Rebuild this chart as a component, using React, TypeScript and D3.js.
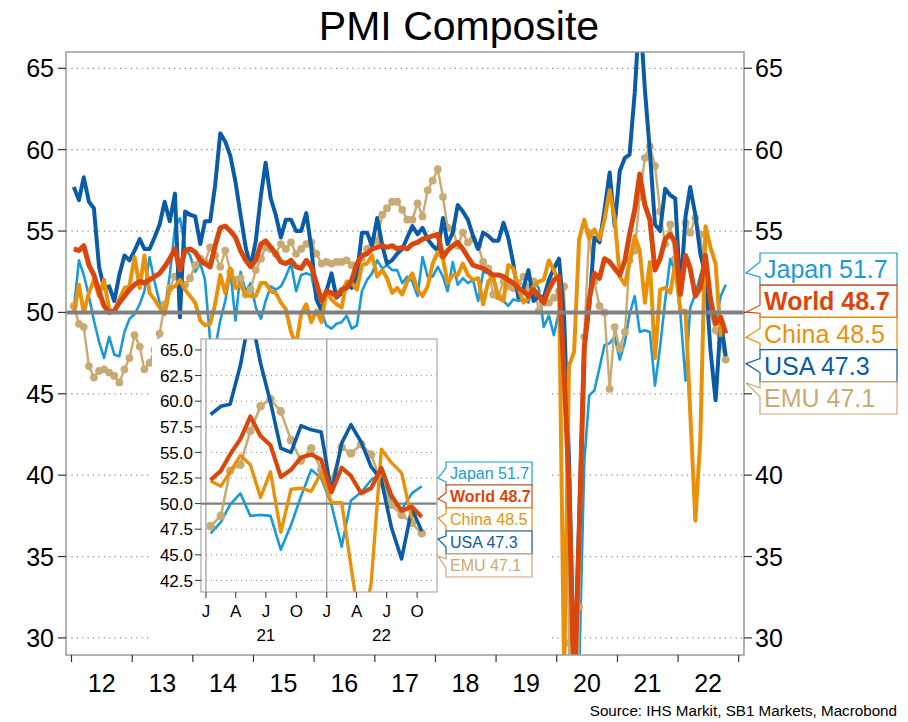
import React from 'react';
import * as d3 from 'd3';

// monthly values, Jan 2012 .. Oct 2022 (China to Sep 2022)
const japan = [
  50.2, 53.2, 52.3, 51.0, 49.5, 48.2, 47.2, 48.5, 47.4, 47.3, 48.8, 49.6,
  49.9, 50.5, 51.3, 53.4, 51.9, 50.6, 50.1, 52.3, 55.2, 55.8, 54.0, 53.5,
  52.5, 53.0, 52.0, 48.3, 47.8, 49.5, 50.7, 52.5, 49.5, 52.5, 51.3, 51.8,
  50.3, 49.6, 50.7, 51.6, 51.4, 51.6, 52.2, 53.0, 51.3, 52.3, 52.4, 52.3,
  50.8, 50.0, 49.2, 49.0, 49.3, 49.4, 49.8, 49.0, 49.2, 51.3, 52.0, 52.4,
  53.2, 52.7, 52.9, 52.6, 52.6, 51.8, 52.2, 51.9, 51.0, 53.4, 52.2, 52.2,
  52.8, 52.2, 51.3, 53.1, 51.7, 52.1, 51.8, 52.0, 50.7, 52.5, 52.4, 52.0,
  50.9, 50.7, 50.4, 50.8, 50.7, 50.8, 50.6, 51.9, 51.5, 49.1, 49.8, 48.6,
  50.1, 47.0, 36.2, 25.8, 27.8, 40.8, 44.9, 45.2, 46.6, 48.0, 48.1, 48.5,
  47.1, 48.2, 49.9, 51.0, 48.8, 48.9, 48.8, 45.5, 47.9, 50.7, 53.3, 52.5,
  49.9, 45.8, 50.3, 51.1, 52.3, 53.0, 50.2, 49.4, 51.0, 51.7,
];

const world = [
  53.9, 53.8, 54.1, 52.9, 52.3, 51.3, 50.4, 50.0, 50.1, 50.6, 51.0, 51.4,
  51.7, 51.9, 51.8, 52.0, 52.2, 52.4, 52.8, 53.3, 53.9, 52.6, 53.8, 53.9,
  53.7, 53.2, 53.0, 52.8, 54.1, 55.2, 55.3, 55.0, 54.6, 53.8, 53.2, 52.8,
  53.2, 54.2, 54.4, 54.0, 53.6, 53.1, 53.0, 53.2, 52.8, 52.7, 53.2, 52.8,
  51.8, 50.7, 51.3, 51.2, 51.0, 51.4, 51.5, 52.0, 53.0, 53.5, 53.6, 53.9,
  54.0, 54.1, 54.0, 54.1, 53.9, 54.0, 53.9, 54.2, 54.3, 54.5, 54.6, 54.7,
  54.8, 53.4, 53.8, 54.1, 54.3, 53.9, 53.4, 52.9, 52.8, 52.7, 52.5, 52.3,
  52.3, 52.2, 52.0, 51.8, 51.5, 51.3, 51.0, 51.4, 51.0, 50.6, 51.4, 52.0,
  52.2, 46.1, 39.4, 26.2, 36.3, 47.8, 50.8, 52.4, 52.1, 53.3, 53.1, 52.7,
  52.3, 53.2, 54.8, 56.3, 58.5, 56.6, 55.7, 52.6, 53.3, 54.5, 54.8, 54.3,
  51.1, 53.5, 52.7, 51.0, 51.5, 53.5, 50.8, 49.3, 49.7, 48.7,
];

const china = [
  49.9, 51.7, 50.0, 51.2, 52.0, 51.0, 52.0, 50.2, 50.0, 50.8, 51.5, 51.6,
  53.4, 51.5, 53.5, 51.2, 50.8, 50.3, 49.9, 51.5, 51.6, 52.0, 51.4, 51.0,
  50.6, 49.5, 49.2, 49.3, 50.5, 52.3, 51.2, 52.7, 51.5, 51.7, 51.1, 51.0,
  51.0, 51.8, 51.8, 51.3, 51.2, 50.6, 50.2, 48.8, 48.0, 49.9, 50.5, 49.4,
  50.1, 49.4, 51.3, 50.8, 50.5, 50.3, 51.9, 51.8, 51.4, 52.9, 53.0, 53.5,
  52.2, 52.6, 52.1, 51.2, 51.5, 51.1, 51.9, 52.4, 51.4, 51.0, 51.6, 53.0,
  53.7, 53.3, 51.8, 52.3, 52.3, 53.0, 52.3, 52.0, 52.1, 50.5, 51.9, 52.2,
  50.9, 50.7, 52.9, 52.7, 51.5, 50.6, 50.9, 51.6, 51.9, 52.0, 53.2, 52.6,
  51.9, 27.5, 46.7, 47.6, 54.5, 55.7, 54.5, 55.1, 54.5, 55.7, 57.5, 55.8,
  52.2, 51.7, 53.1, 54.7, 53.8, 50.6, 53.1, 47.2, 51.4, 51.5, 51.2, 53.0,
  50.1, 50.1, 43.9, 37.2, 42.2, 55.3, 54.0, 53.0, 48.5,
];

const usa = [
  57.7, 56.9, 58.3, 56.8, 56.4, 52.8, 51.5, 51.6, 50.7, 52.3, 53.5, 53.2,
  53.8, 54.5, 53.9, 53.9, 54.6, 55.4, 56.8, 55.6, 57.3, 49.7, 56.2, 56.0,
  55.9, 54.2, 55.6, 55.6, 57.8, 61.0, 60.5, 59.6, 58.0, 56.0, 54.0, 52.8,
  54.4, 57.2, 59.2, 57.0, 56.0, 54.6, 55.7, 55.7, 55.0, 55.0, 56.1, 54.0,
  50.8, 50.1, 51.3, 52.4, 50.9, 51.2, 51.8, 51.5, 52.3, 54.9, 54.9, 54.1,
  55.8, 54.1, 53.0, 53.2, 53.6, 53.9, 54.6, 55.3, 54.8, 55.2, 54.5, 54.1,
  53.8, 55.8, 54.2, 54.9, 56.6, 56.2, 55.7, 54.7, 53.9, 54.9, 54.7, 54.4,
  54.4, 55.5, 54.6, 53.0, 50.9, 51.5, 52.6, 50.7, 51.0, 50.9, 52.0, 52.7,
  53.3, 49.6, 40.9, 27.0, 37.0, 47.9, 50.3, 54.6, 54.3, 56.3, 58.6, 55.3,
  58.7, 59.5, 59.7, 63.5, 68.7, 63.7, 59.9, 55.4, 55.0, 57.6, 57.2, 57.0,
  51.1, 55.9, 57.7, 56.0, 53.6, 52.3, 47.7, 44.6, 49.5, 47.3,
];

const emu = [
  50.4, 49.3, 49.1, 46.7, 46.0, 46.4, 46.5, 46.3, 46.1, 45.7, 46.5, 47.2,
  48.6, 47.9, 46.5, 46.9, 47.7, 48.7, 50.5, 51.5, 52.2, 51.9, 51.7, 52.1,
  52.9, 53.3, 53.1, 54.0, 53.5, 52.8, 53.8, 52.5, 52.0, 52.1, 51.1, 51.4,
  52.6, 53.3, 54.0, 53.9, 53.6, 54.2, 53.9, 54.3, 53.6, 53.9, 54.2, 54.3,
  53.6, 53.0, 53.1, 53.0, 53.1, 53.1, 53.2, 52.9, 52.6, 53.3, 53.9, 54.4,
  54.4, 56.0, 56.4, 56.8, 56.8, 56.3, 55.7, 55.7, 56.7, 55.9, 57.5, 58.1,
  58.8, 57.1, 55.2, 55.1, 54.1, 54.9, 54.3, 54.5, 54.1, 53.1, 52.7, 51.1,
  51.0, 51.9, 51.6, 51.5, 51.8, 52.2, 51.5, 51.9, 50.1, 50.6, 50.6, 50.9,
  51.3, 51.6, 29.7, 13.6, 31.9, 48.5, 54.9, 51.9, 50.4, 50.0, 45.3, 49.1,
  47.8, 48.8, 53.2, 53.8, 57.1, 59.5, 60.2, 59.0, 56.2, 54.2, 55.4, 53.3,
  52.3, 55.5, 54.9, 55.8, 54.8, 52.0, 49.9, 48.9, 48.1, 47.1,
];

const yearLabels = ['12', '13', '14', '15', '16', '17', '18', '19', '20', '21', '22'];
const mainTicks = [30, 35, 40, 45, 50, 55, 60, 65];
const insetTicks = [42.5, 45, 47.5, 50, 52.5, 55, 57.5, 60, 62.5, 65];
const insetMonthLabels = ['J', 'A', 'J', 'O'];
const insetYearLabels = ['21', '22'];
const names = ['Japan', 'World', 'China', 'USA', 'EMU'];

const W = 908;
const H = 722;
const FONT = 'Liberation Sans, Arial, Helvetica, sans-serif';

const series = [
  { name: 'Japan', data: japan, color: '#1A9AD6', width: 2.6, inset: 2.6, dots: false, bold: false },
  { name: 'EMU', data: emu, color: '#C9AA73', width: 2.4, inset: 2.6, dots: true, bold: false },
  { name: 'USA', data: usa, color: '#0B5CA6', width: 4, inset: 3.6, dots: false, bold: false },
  { name: 'China', data: china, color: '#E8920B', width: 4, inset: 3.4, dots: false, bold: false },
  { name: 'World', data: world, color: '#D9470C', width: 5, inset: 4.2, dots: false, bold: true },
];
const byName = (n: string) => series.find(s => s.name === n)!;

const dateOf = (i: number) => new Date(2012, i, 15);

// main plot
const M = { left: 66, right: 744, top: 52, bottom: 655 };
const x = d3.scaleTime().domain([new Date(2011, 10, 29), new Date(2023, 1, 2)]).range([M.left, M.right]);
const y = d3.scaleLinear().domain([28.95, 66.0]).range([M.bottom, M.top]);

// inset
const I = { left: 201, right: 437, top: 339, bottom: 592 };
const ix = d3.scaleTime().domain([new Date(2020, 11, 17), new Date(2022, 10, 30)]).range([I.left, I.right]);
const iy = d3.scaleLinear().domain([41.37, 66.07]).range([I.bottom, I.top]);
const insetStart = 108; // Jan 2021

// right-hand callout stack
const boxTop = 253;
const boxH = 32.2;

function Callout({ bx, by, bw, bh, tx, a1, a2, tip, color, text, size, bold }: any) {
  const d = `M${bx},${by}H${bx + bw}V${by + bh}H${bx}V${by + a2}L${tx},${by + tip}L${bx},${by + a1}Z`;
  return (
    <g>
      <path d={d} fill="#fff" stroke={color} strokeWidth={1.2} />
      <text x={bx + 4} y={by + bh / 2} dy="0.36em" fill={color} fontSize={size}
        fontWeight={bold ? 'bold' : 'normal'} fontFamily={FONT}>{text}</text>
    </g>
  );
}

export default function App() {
  const line = (xs: any, ys: any, offset: number) =>
    d3.line<number>().x((_, i) => xs(dateOf(i + offset))).y(d => ys(d));

  const yearStarts = d3.range(2012, 2024).map(yy => new Date(yy, 0, 1));
  const insetQuarters = d3.range(0, 8).map(q => new Date(2021, q * 3, 1));

  // [tip dy, wedge a1, wedge a2]
  const mainLayout: Record<string, number[]> = {
    Japan: [20, 9, 24], World: [27, 20, 28], China: [20, 11, 26], USA: [14, 9, 23], EMU: [1, 6, 15],
  };
  const insetLayout: Record<string, number[]> = {
    Japan: [16, 6, 20], World: [14, 8, 18], China: [10, 6, 18], USA: [8, 5, 16], EMU: [2, 5, 14],
  };

  const last = (s: any) => s.data[s.data.length - 1].toFixed(1);
  const stackBottom = boxTop + names.length * boxH;
  const rightLabelVisible = (t: number) => y(t) < boxTop - 10 || y(t) > stackBottom + 10;

  return (
    <svg width={W} height={H} style={{ display: 'block', position: 'absolute', left: 0, top: 0 }}
      fontFamily={FONT}>
      <defs>
        <clipPath id="mainClip"><rect x={M.left} y={M.top} width={M.right - M.left} height={M.bottom - M.top} /></clipPath>
        <clipPath id="insetClip"><rect x={I.left} y={I.top} width={I.right - I.left} height={I.bottom - I.top} /></clipPath>
      </defs>
      <rect width={W} height={H} fill="#fff" />

      <text x={459} y={40} textAnchor="middle" fontSize={41} fill="#000">PMI Composite</text>

      {/* grid */}
      {mainTicks.filter(t => t !== 50).map(t => (
        <line key={t} x1={M.left} x2={M.right} y1={y(t)} y2={y(t)} stroke="#8a8a8a"
          strokeWidth={1.2} strokeDasharray="1.2,4.2" />
      ))}

      {/* series */}
      <g clipPath="url(#mainClip)">
        {series.map(s => (
          <g key={s.name}>
            <path d={line(x, y, 0)(s.data)!} fill="none" stroke={s.color} strokeWidth={s.width}
              strokeLinejoin="round" />
            {s.dots && s.data.map((v, i) => (
              <circle key={i} cx={x(dateOf(i))} cy={y(v)} r={3.9} fill={s.color} />
            ))}
          </g>
        ))}
      </g>
      <line x1={M.left} x2={M.right} y1={y(50)} y2={y(50)} stroke="#808080" strokeWidth={4} />

      {/* frame */}
      <rect x={M.left} y={M.top} width={M.right - M.left} height={M.bottom - M.top} fill="none"
        stroke="#9a9a9a" strokeWidth={1.5} />

      {/* axes */}
      {mainTicks.map(t => (
        <g key={t}>
          <line x1={M.left - 8} x2={M.left} y1={y(t)} y2={y(t)} stroke="#333" strokeWidth={1.2} />
          <text x={M.left - 12} y={y(t)} dy="0.36em" textAnchor="end" fontSize={25}>{t}</text>
          <line x1={M.right} x2={M.right + 8} y1={y(t)} y2={y(t)} stroke="#333" strokeWidth={1.2} />
          {rightLabelVisible(t) && <text x={M.right + 11} y={y(t)} dy="0.36em" fontSize={25}>{t}</text>}
        </g>
      ))}
      {yearStarts.map((d, i) => (
        <line key={i} x1={x(d)} x2={x(d)} y1={M.bottom} y2={M.bottom + 7} stroke="#333" strokeWidth={1.2} />
      ))}
      {yearLabels.map((l, i) => (
        <text key={l} x={x(new Date(2012 + i, 6, 1))} y={692} textAnchor="middle" fontSize={25}>{l}</text>
      ))}

      {/* right callouts */}
      {names.map((n, i) => {
        const s = byName(n);
        const [tip, a1, a2] = mainLayout[n];
        return (
          <Callout key={n} bx={760} by={boxTop + i * boxH} bw={137} bh={boxH} tx={746} tip={tip} a1={a1} a2={a2}
            color={s.color} text={`${n} ${last(s)}`} size={25} bold={s.bold} />
        );
      })}

      {/* inset */}
      <rect x={152} y={I.top} width={400} height={311} fill="#fff" />
      <rect x={I.left} y={I.top} width={I.right - I.left} height={I.bottom - I.top} fill="#fff" />
      {insetTicks.filter(t => t !== 50).map(t => (
        <line key={t} x1={I.left} x2={I.right} y1={iy(t)} y2={iy(t)} stroke="#8a8a8a"
          strokeWidth={1} strokeDasharray="1,4" />
      ))}
      {[new Date(2021, 0, 1), new Date(2022, 0, 1)].map((d, i) => (
        <line key={i} x1={ix(d)} x2={ix(d)} y1={I.top} y2={I.bottom} stroke="#9a9a9a" strokeWidth={1.2} />
      ))}
      <line x1={I.left} x2={I.right} y1={iy(50)} y2={iy(50)} stroke="#808080" strokeWidth={2.2} />
      <g clipPath="url(#insetClip)">
        {series.map(s => {
          const part = s.data.slice(insetStart);
          return (
            <g key={s.name}>
              <path d={line(ix, iy, insetStart)(part)!} fill="none" stroke={s.color} strokeWidth={s.inset}
                strokeLinejoin="round" />
              {s.dots && part.map((v, i) => (
                <circle key={i} cx={ix(dateOf(i + insetStart))} cy={iy(v)} r={4.3} fill={s.color} />
              ))}
            </g>
          );
        })}
      </g>
      <rect x={I.left} y={I.top} width={I.right - I.left} height={I.bottom - I.top} fill="none"
        stroke="#aaa" strokeWidth={1.2} />
      {insetTicks.map(t => (
        <g key={t}>
          <line x1={I.left - 6} x2={I.left} y1={iy(t)} y2={iy(t)} stroke="#333" />
          <text x={I.left - 8} y={iy(t)} dy="0.36em" textAnchor="end" fontSize={17}>{t.toFixed(1)}</text>
        </g>
      ))}
      {insetQuarters.map((d, i) => (
        <g key={i}>
          <line x1={ix(d)} x2={ix(d)} y1={I.bottom} y2={I.bottom + 6} stroke="#333" />
          <text x={ix(d)} y={617} textAnchor="middle" fontSize={17}>{insetMonthLabels[i % 4]}</text>
        </g>
      ))}
      {insetYearLabels.map((l, i) => (
        <text key={l} x={i === 0 ? ix(new Date(2021, 6, 1)) : ix(new Date(2022, 5, 15))} y={641}
          textAnchor="middle" fontSize={17}>{l}</text>
      ))}
      {names.map((n, i) => {
        const s = byName(n);
        const [tip, a1, a2] = insetLayout[n];
        return (
          <Callout key={n} bx={446} by={462 + i * 23} bw={86} bh={23} tx={438} tip={tip} a1={a1} a2={a2}
            color={s.color} text={`${n} ${last(s)}`} size={16} bold={s.bold} />
        );
      })}

      <text x={897} y={716} textAnchor="end" fontSize={15.2}>Source: IHS Markit, SB1 Markets, Macrobond</text>
    </svg>
  );
}
